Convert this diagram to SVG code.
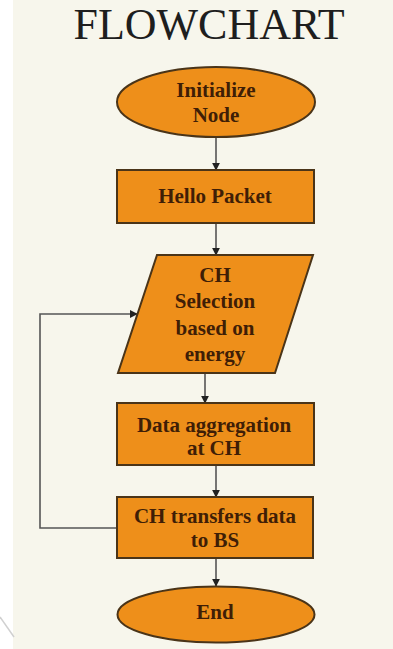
<svg xmlns="http://www.w3.org/2000/svg" width="393" height="649" viewBox="0 0 393 649">
<style>
.shape{fill:#ee8f1a;stroke:#4a3418;stroke-width:2}
.lbl{font-family:"Liberation Serif","Times New Roman",serif;font-size:21px;font-weight:bold;fill:#3f1e06;text-anchor:middle}
.title{font-family:"Liberation Serif","Times New Roman",serif;font-size:44px;fill:#1e1e1e;text-anchor:middle}
.conn{fill:none;stroke:#555555;stroke-width:1.6}
</style>
<defs>
<marker id="ah" viewBox="0 0 10 10" refX="9" refY="5" markerWidth="5" markerHeight="5" orient="auto">
<path d="M0,0 L10,5 L0,10 z" fill="#222222"/>
</marker>
</defs>
<rect x="0" y="0" width="393" height="649" fill="#ffffff"/>
<rect x="13" y="0" width="380" height="649" fill="#f7f6ec"/>
<path d="M0,617 L14,637" stroke="#d0d0d0" stroke-width="1.5" fill="none"/>
<text class="title" x="209" y="39">FLOWCHART</text>
<g id="connectors">
<line class="conn" x1="216" y1="137" x2="216" y2="170" marker-end="url(#ah)"/>
<line class="conn" x1="216" y1="223" x2="216" y2="255" marker-end="url(#ah)"/>
<line class="conn" x1="205" y1="373" x2="205" y2="403" marker-end="url(#ah)"/>
<line class="conn" x1="216" y1="465" x2="216" y2="497" marker-end="url(#ah)"/>
<line class="conn" x1="216" y1="558" x2="216" y2="586" marker-end="url(#ah)"/>
<polyline class="conn" points="117,528 40,528 40,314 137,314" marker-end="url(#ah)"/>
</g>
<g id="start">
<ellipse class="shape" cx="216" cy="102" rx="99" ry="35"/>
<text class="lbl" x="216" y="97">Initialize</text>
<text class="lbl" x="216" y="122">Node</text>
</g>
<g id="hello">
<rect class="shape" x="117" y="170" width="197" height="53"/>
<text class="lbl" x="215" y="203">Hello Packet</text>
</g>
<g id="selection">
<polygon class="shape" points="157,255 313,255 275,373 118,373"/>
<text class="lbl" x="215" y="282">CH</text>
<text class="lbl" x="215" y="308">Selection</text>
<text class="lbl" x="215" y="335">based on</text>
<text class="lbl" x="215" y="361">energy</text>
</g>
<g id="aggregation">
<rect class="shape" x="117" y="403" width="197" height="62"/>
<text class="lbl" x="214" y="432">Data aggregation</text>
<text class="lbl" x="214" y="455">at CH</text>
</g>
<g id="transfer">
<rect class="shape" x="117" y="497" width="196" height="61"/>
<text class="lbl" x="215" y="523">CH  transfers data</text>
<text class="lbl" x="215" y="547">to BS</text>
</g>
<g id="end">
<ellipse class="shape" cx="216" cy="614.5" rx="98.5" ry="28"/>
<text class="lbl" x="215" y="619">End</text>
</g>
</svg>
